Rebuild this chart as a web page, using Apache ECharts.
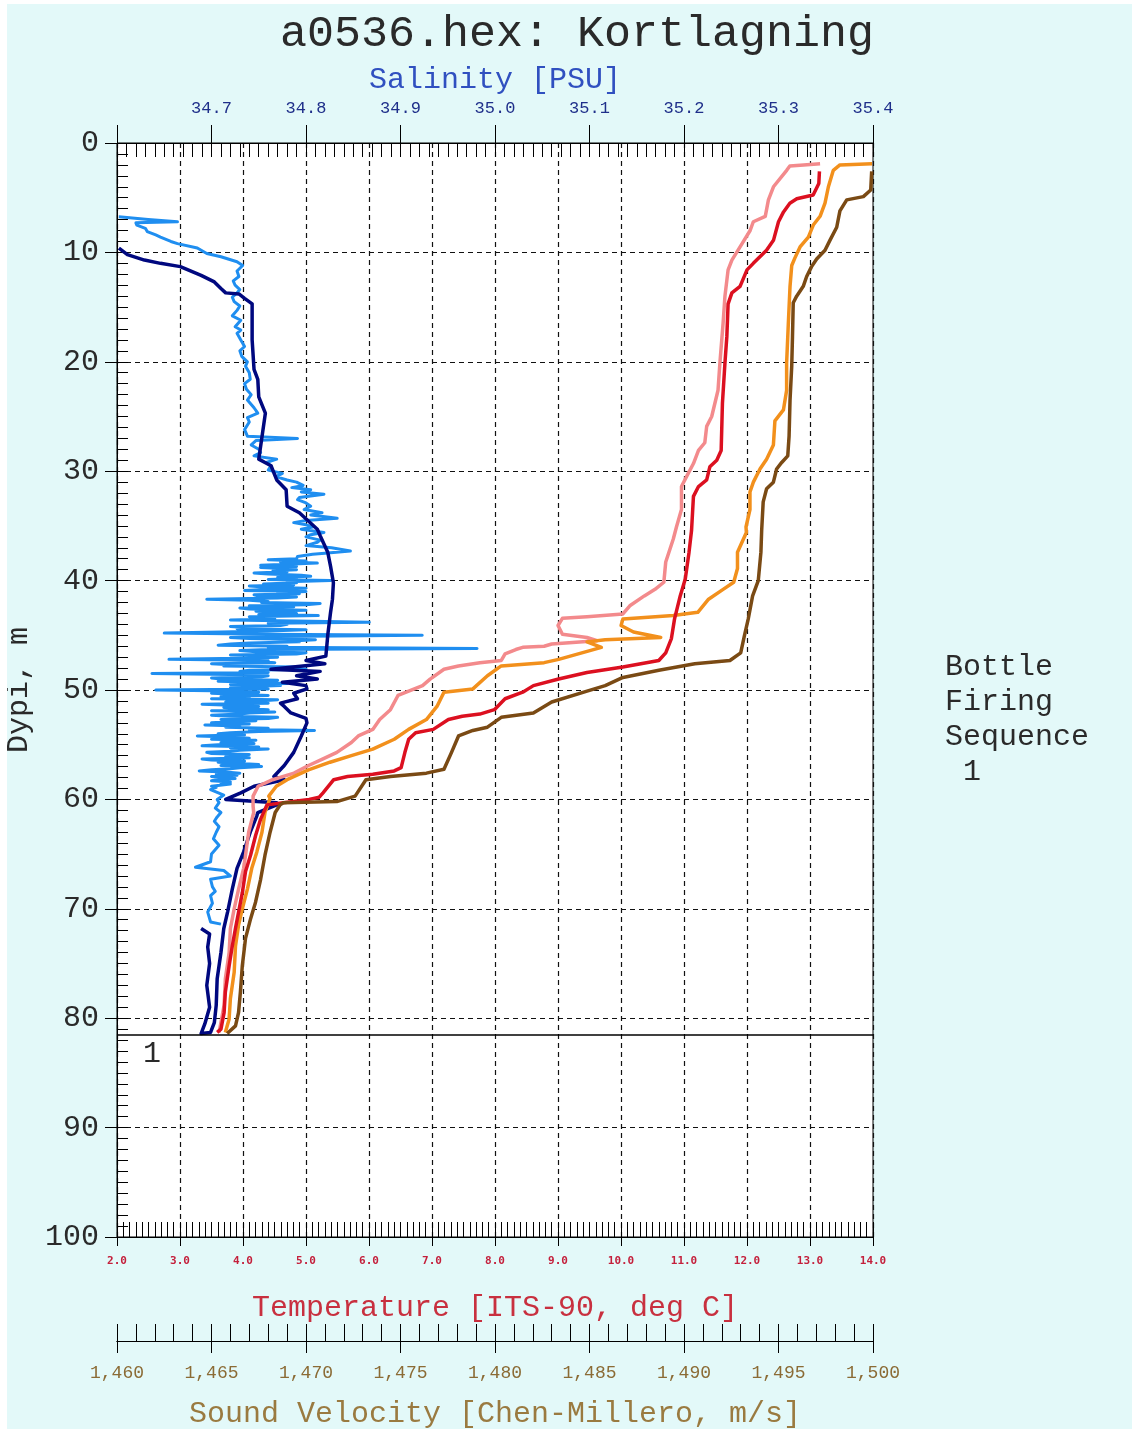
<!DOCTYPE html>
<html><head><meta charset="utf-8">
<script src="https://cdn.jsdelivr.net/npm/echarts@6/dist/echarts.min.js"></script>
<style>
html,body{margin:0;padding:0;background:#fff;}
#chart{position:absolute;left:0;top:0;width:1132px;height:1429px;background:#E3F9F9;}
#edgeL{position:absolute;left:0;top:0;width:7px;height:1429px;background:#fff;}
#edgeT{position:absolute;left:0;top:0;width:1132px;height:4px;background:#fff;}
</style></head><body>
<div id="chart"></div><div id="edgeL"></div><div id="edgeT"></div>
<script>
// ---- texts ----
const titleText = 'a0536.hex: Kortlagning';
const salinityName = 'Salinity [PSU]';
const temperatureName = 'Temperature [ITS-90, deg C]';
const soundName = 'Sound Velocity [Chen-Millero, m/s]';
const depthName = 'Dypi, m';
const sideNote = ['Bottle', 'Firing', 'Sequence', ' 1'];
const bottleDepths = [81.5];
const bottleLabels = ['1'];

// ---- data: [depth m, value] ----
const salinity1 = [[9.6,34.602],[10.2,34.611],[10.7,34.629],[11.0,34.646],[11.3,34.667],[12.1,34.689],[12.7,34.703],[13.3,34.710],[13.7,34.715],[13.8,34.729],[14.2,34.735],[14.7,34.743],[18.0,34.743],[20.7,34.745],[21.6,34.749],[23.2,34.750],[24.7,34.757],[26.5,34.754],[28.9,34.750],[29.5,34.763],[30.8,34.769],[31.7,34.779],[33.2,34.780],[33.8,34.793],[35.3,34.812],[35.9,34.815],[37.4,34.823],[38.7,34.826],[40.2,34.829],[41.7,34.828],[42.9,34.826],[45.0,34.823],[46.0,34.822],[46.9,34.821],[47.3,34.80],[47.6,34.82],[48.1,34.763],[48.3,34.815],[48.7,34.79],[49.0,34.812],[49.3,34.775],[49.6,34.80],[49.9,34.801],[50.3,34.787],[50.8,34.791],[51.2,34.773],[51.5,34.777],[52.1,34.784],[52.6,34.80],[53.0,34.801],[54.2,34.795],[55.7,34.787],[56.9,34.777],[57.9,34.766],[58.2,34.777],[58.8,34.745],[59.4,34.731],[60.0,34.715],[60.3,34.769],[60.5,34.769],[61.2,34.749],[61.5,34.748],[63.0,34.741],[64.8,34.734],[66.3,34.727],[68.2,34.722],[70.3,34.717],[71.8,34.713],[74.0,34.710],[76.4,34.706],[78.8,34.705],[80.4,34.703],[81.3,34.699],[81.4,34.689],[80.5,34.693],[79.0,34.698],[77.0,34.695],[75.0,34.698],[73.5,34.696],[72.3,34.698],[71.8,34.689]];

const salinity2 = [[6.75,34.602],[7.0,34.633],[7.2,34.664],[7.3,34.620],[7.5,34.621],[7.8,34.630],[8.1,34.632],[8.4,34.641],[8.6,34.646],[9.0,34.657],[9.2,34.664],[9.6,34.685],[10.1,34.695],[10.4,34.710],[10.85,34.727],[11.2,34.733],[11.7,34.727],[12.2,34.729],[12.6,34.723],[13.0,34.725],[13.4,34.730],[13.7,34.727],[14.1,34.722],[14.5,34.724],[14.9,34.730],[15.3,34.727],[15.8,34.722],[16.2,34.731],[16.8,34.725],[17.1,34.731],[17.4,34.727],[18.0,34.731],[18.6,34.735],[19.0,34.730],[19.5,34.732],[20.0,34.738],[20.4,34.736],[21.0,34.740],[21.6,34.741],[22.0,34.735],[22.5,34.737],[23.0,34.742],[23.5,34.738],[24.2,34.745],[24.7,34.749],[25.1,34.738],[25.5,34.740],[26.2,34.735],[26.8,34.738],[27.0,34.791],[27.2,34.747],[27.6,34.742],[28.0,34.750],[28.3,34.752],[28.6,34.745],[28.9,34.769],[29.2,34.758],[29.5,34.763],[29.9,34.760],[30.2,34.775],[30.5,34.768],[30.8,34.780],[31.0,34.790],[31.3,34.797],[31.5,34.785],[31.7,34.805],[31.9,34.795],[32.1,34.819],[32.4,34.793],[32.6,34.791],[32.9,34.800],[33.2,34.805],[33.5,34.798],[33.8,34.817],[34.0,34.805],[34.3,34.833],[34.5,34.800],[34.7,34.787],[34.9,34.800],[35.1,34.807],[35.3,34.795],[35.6,34.819],[35.8,34.805],[36.0,34.800],[36.3,34.815],[36.5,34.812],[36.8,34.800],[37.0,34.827],[37.3,34.847],[37.5,34.820],[37.6,34.807],[37.8,34.791],
[38.0,34.790],[38.1,34.760],[38.2,34.800],[38.3,34.773],[38.4,34.812],[38.5,34.780],[38.6,34.752],[38.7,34.790],[38.8,34.752],[38.9,34.775],[39.0,34.790],[39.1,34.765],[39.2,34.780],[39.3,34.745],[39.4,34.760],[39.5,34.795],[39.6,34.805],[39.7,34.770],[39.8,34.790],[39.9,34.760],[40.0,34.826],[40.1,34.780],[40.2,34.790],[40.3,34.755],[40.4,34.787],[40.5,34.740],[40.6,34.760],[40.7,34.800],[40.8,34.760],[40.9,34.735],[41.0,34.800],[41.1,34.770],[41.2,34.793],[41.3,34.745],[41.4,34.750],[41.5,34.790],[41.6,34.770],[41.7,34.695],[41.8,34.740],[41.9,34.760],[42.0,34.753],[42.1,34.815],[42.2,34.800],[42.3,34.740],[42.4,34.787],[42.5,34.730],[42.6,34.740],[42.7,34.800],[42.8,34.747],[42.9,34.775],[43.0,34.790],[43.1,34.750],[43.2,34.813],[43.3,34.740],[43.4,34.760],[43.5,34.767],[43.6,34.720],[43.7,34.790],[43.8,34.867],[43.9,34.760],[44.0,34.780],[44.1,34.773],[44.2,34.720],[44.3,34.740],[44.4,34.727],[44.5,34.800],[44.6,34.760],[44.7,34.710],[44.8,34.650],[44.9,34.760],[45.0,34.923],[45.1,34.770],[45.2,34.720],[45.3,34.740],[45.4,34.810],[45.5,34.790],[45.6,34.793],[45.7,34.740],[45.8,34.720],[45.9,34.707],[46.0,34.780],[46.1,34.760],[46.2,34.981],[46.3,34.760],[46.4,34.730],[46.5,34.747],[46.6,34.800],[46.7,34.790],[46.8,34.720],[46.9,34.760],[47.0,34.770],[47.1,34.730],[47.2,34.655],[47.3,34.760],[47.4,34.750],[47.5,34.767],[47.6,34.700],[47.7,34.720],[47.8,34.713],[47.9,34.790],[48.0,34.780],[48.1,34.800],[48.2,34.740],[48.3,34.730],[48.4,34.760],[48.5,34.637],[48.6,34.740],[48.7,34.760],[48.8,34.753],[48.9,34.700],[49.0,34.710],[49.1,34.770],[49.2,34.707],[49.3,34.750],[49.4,34.780],[49.5,34.720],[49.6,34.773],[49.7,34.735],[49.8,34.720],[49.9,34.760],[50.0,34.641],[50.1,34.720],[50.2,34.750],[50.3,34.700],[50.4,34.733],[50.5,34.760],[50.6,34.710],[50.7,34.740],[50.8,34.700],[50.9,34.770],[51.0,34.750],[51.1,34.715],[51.2,34.760],[51.3,34.690],[51.4,34.720],[51.5,34.750],[51.6,34.713],[51.7,34.735],[51.8,34.760],[51.9,34.700],[52.0,34.767],[52.1,34.740],[52.2,34.730],[52.3,34.700],[52.4,34.720],[52.5,34.770],[52.6,34.760],[52.7,34.710],[52.8,34.747],[52.9,34.720],[53.0,34.700],[53.1,34.740],[53.2,34.693],[53.3,34.730],[53.4,34.715],[53.5,34.760],[53.6,34.740],[53.7,34.809],[53.8,34.750],[53.9,34.720],[54.0,34.707],[54.1,34.735],[54.2,34.685],[54.3,34.720],[54.4,34.740],[54.5,34.700],[54.6,34.747],[54.7,34.725],[54.8,34.710],[54.9,34.745],[55.0,34.707],[55.1,34.690],[55.2,34.750],[55.3,34.720],[55.4,34.760],[55.5,34.730],[55.6,34.720],[55.7,34.695],[55.8,34.700],[55.9,34.740],[56.0,34.740],[56.1,34.715],[56.2,34.740],[56.3,34.690],[56.4,34.700],[56.5,34.735],[56.6,34.707],[56.7,34.725],[56.8,34.750],[56.9,34.710],[57.0,34.753],[57.1,34.730],[57.2,34.720],[57.3,34.700],[57.4,34.687],[57.5,34.715],[57.6,34.730],[57.7,34.705],[57.8,34.727],[57.9,34.700],[58.0,34.710],[58.1,34.725],[58.2,34.707],[58.3,34.700],[58.4,34.720],[58.5,34.710],[58.6,34.720],[58.8,34.700],[58.9,34.705],[59.1,34.699],
[59.6,34.713],[60.0,34.706],[60.3,34.708],[60.8,34.704],[61.2,34.710],[61.6,34.706],[62.0,34.703],[62.5,34.708],[63.0,34.705],[63.6,34.702],[64.2,34.708],[65.0,34.700],[65.7,34.699],[66.2,34.683],[66.5,34.713],[67.0,34.720],[67.3,34.699],[68.0,34.701],[68.4,34.704],[68.8,34.699],[69.5,34.701],[70.3,34.696],[71.2,34.699],[71.4,34.710]];

const temperature1 = [[2.6,13.15],[3.7,13.14],[4.75,13.05],[5.1,12.79],[5.5,12.68],[6.3,12.58],[7.2,12.50],[8.9,12.42],[9.8,12.31],[11.0,12.10],[11.6,12.00],[13.1,11.89],[13.7,11.76],[14.7,11.70],[17.7,11.68],[20.1,11.65],[23.8,11.61],[28.1,11.59],[29.0,11.52],[29.6,11.41],[30.8,11.36],[31.4,11.23],[32.3,11.15],[35.4,11.12],[37.4,11.08],[39.85,11.02],[41.4,10.94],[43.5,10.85],[45.3,10.80],[46.6,10.71],[47.3,10.60],[47.9,10.03],[48.4,9.46],[49.0,9.01],[49.6,8.61],[50.2,8.44],[50.8,8.16],[51.8,7.99],[52.2,7.76],[52.4,7.48],[52.7,7.26],[53.6,7.02],[53.9,6.74],[54.5,6.63],[55.7,6.57],[57.1,6.51],[57.4,6.40],[57.7,6.06],[57.9,5.66],[58.2,5.44],[59.4,5.27],[59.8,5.21],[60.0,5.05],[60.3,4.64],[60.5,4.38],[61.8,4.28],[63.3,4.20],[65.1,4.12],[66.6,4.04],[68.5,3.99],[70.3,3.93],[71.8,3.88],[73.4,3.83],[75.2,3.78],[77.6,3.72],[79.5,3.70],[81.0,3.65],[81.3,3.59]];

const temperature2 = [[1.9,13.16],[2.0,12.90],[2.1,12.68],[2.5,12.63],[4.0,12.42],[5.2,12.34],[6.7,12.29],[7.2,12.10],[8.0,12.05],[9.5,11.89],[10.7,11.76],[11.6,11.70],[14.0,11.65],[16.5,11.62],[20.1,11.57],[22.6,11.54],[25.0,11.44],[25.9,11.36],[27.4,11.33],[28.1,11.23],[29.3,11.15],[30.5,11.04],[31.4,10.96],[33.5,10.96],[35.1,10.88],[36.2,10.83],[38.3,10.71],[40.15,10.68],[40.8,10.54],[41.4,10.37],[42.3,10.14],[43.05,10.03],[43.3,9.46],[43.45,9.07],[44.1,9.0],[44.9,9.07],[45.2,9.46],[45.5,9.62],[45.8,8.90],[46.0,8.78],[46.1,8.44],[46.3,8.33],[46.7,8.16],[47.3,8.10],[47.5,7.76],[47.8,7.42],[48.1,7.19],[49.0,6.97],[49.6,6.85],[50.1,6.63],[50.5,6.46],[51.8,6.34],[52.7,6.17],[53.6,6.06],[54.2,5.83],[54.8,5.72],[55.7,5.49],[56.3,5.27],[56.9,5.04],[57.6,4.81],[58.2,4.47],[58.8,4.24],[59.7,4.16],[60.6,4.16],[61.2,4.17],[63.0,4.09],[65.1,4.04],[66.3,4.01],[68.2,3.93],[70.0,3.86],[71.8,3.80],[74.0,3.78],[76.4,3.72],[78.8,3.70],[80.4,3.65],[81.3,3.62]];

const soundVelocity1 = [[2.6,1499.93],[4.3,1499.88],[4.9,1499.49],[5.2,1498.61],[6.2,1498.25],[7.7,1498.08],[8.9,1497.72],[9.8,1497.46],[10.6,1497.02],[11.3,1496.75],[12.2,1496.49],[13.1,1496.31],[14.0,1495.96],[14.6,1495.78],[17.7,1495.74],[20.4,1495.70],[23.5,1495.61],[26.8,1495.56],[28.6,1495.49],[29.2,1495.17],[29.8,1494.90],[31.0,1494.73],[31.6,1494.37],[32.8,1494.19],[35.4,1494.11],[37.4,1494.07],[40.0,1493.93],[41.4,1493.63],[43.5,1493.40],[45.0,1493.20],[46.6,1493.00],[47.3,1492.43],[47.6,1490.57],[48.2,1488.67],[48.85,1486.77],[49.6,1485.83],[50.1,1484.87],[51.1,1483.00],[52.1,1482.03],[52.5,1480.33],[53.4,1479.60],[53.7,1478.83],[54.2,1478.07],[55.7,1477.70],[57.25,1477.30],[57.6,1476.37],[57.9,1474.47],[58.2,1473.17],[59.7,1472.60],[60.2,1471.63],[60.3,1468.80],[60.5,1468.63],[61.2,1468.37],[63.0,1468.10],[65.1,1467.83],[67.3,1467.60],[69.4,1467.33],[70.9,1467.07],[72.7,1466.80],[75.2,1466.63],[77.6,1466.53],[79.5,1466.43],[80.7,1466.27],[81.4,1465.83]];

const soundVelocity2 = [[1.9,1499.95],[2.0,1498.25],[2.5,1497.90],[4.0,1497.64],[5.5,1497.46],[6.7,1497.20],[7.5,1496.84],[8.6,1496.58],[9.5,1496.14],[10.5,1495.87],[11.2,1495.70],[13.1,1495.61],[16.5,1495.52],[20.1,1495.43],[22.6,1495.43],[24.4,1495.26],[25.4,1494.81],[27.6,1494.73],[28.9,1494.37],[29.8,1494.02],[31.0,1493.67],[31.9,1493.49],[33.5,1493.49],[35.1,1493.28],[35.6,1493.30],[37.4,1492.83],[38.9,1492.83],[40.15,1492.63],[40.8,1492.07],[41.7,1491.30],[42.9,1490.73],[43.2,1489.43],[43.5,1486.77],[44.1,1486.67],[44.7,1487.33],[45.2,1488.77],[45.4,1485.83],[45.6,1484.87],[46.1,1485.63],[47.2,1483.37],[47.5,1482.60],[47.8,1480.33],[48.7,1479.60],[49.9,1478.83],[50.2,1477.30],[51.5,1476.93],[52.7,1476.37],[53.6,1475.43],[54.5,1474.67],[55.4,1473.53],[56.0,1472.40],[56.6,1471.27],[57.3,1470.13],[58.2,1469.00],[58.8,1468.43],[59.7,1468.03],[59.9,1468.10],[61.2,1467.83],[63.0,1467.67],[64.8,1467.40],[66.3,1467.13],[68.2,1466.90],[70.0,1466.63],[71.5,1466.43],[73.4,1466.27],[75.8,1466.20],[78.2,1466.00],[80.1,1465.93],[81.3,1465.73]];

// ---- chart ----
const FONT = '"Liberation Mono", "DejaVu Sans Mono", monospace';
const chart = echarts.init(document.getElementById('chart'), null, {renderer: 'canvas'});
const black = {color: '#000', width: 1};
const dashed = {color: '#111', width: 1.2, type: [5, 4]};

function lineSeries(name, pairs, color, xi, width, extra) {
  return Object.assign({
    type: 'line', name: name, xAxisIndex: xi, yAxisIndex: 0,
    data: pairs.map(p => [p[1], p[0]]),
    showSymbol: false, symbol: 'none', silent: true, clip: true,
    lineStyle: {color: color, width: width, join: 'round'}, itemStyle: {color: color}
  }, extra || {});
}

const option = {
  animation: false,
  backgroundColor: 'transparent',
  title: {text: titleText, left: 275, top: 7,
    textStyle: {fontFamily: FONT, fontSize: 45, fontWeight: 'normal', color: '#2a2a2a'}},
  grid: {left: 117, right: 259, top: 143, bottom: 192, show: true,
    backgroundColor: '#fff', borderColor: '#000', borderWidth: 1, containLabel: false, outerBoundsMode: 'none'},
  xAxis: [
    {type: 'value', position: 'top', min: 34.6, max: 35.4, interval: 0.1,
      axisLine: {show: true, lineStyle: black},
      axisTick: {show: true, inside: false, length: 18, lineStyle: black},
      axisLabel: {fontFamily: FONT, fontSize: 17, color: '#1f2f8a', margin: 26,
        formatter: v => (Math.abs(v - 34.6) < 1e-6 ? '' : v.toFixed(1))},
      splitLine: {show: false},
      name: salinityName, nameLocation: 'middle', nameGap: 46,
      nameTextStyle: {fontFamily: FONT, fontSize: 30, color: '#3050c0'}},
    {type: 'value', position: 'top', min: 34.6, max: 35.4, interval: 0.1,
      axisLine: {show: false}, axisLabel: {show: false}, splitLine: {show: false},
      axisTick: {show: true, inside: true, length: 14, lineStyle: black},
      minorTick: {show: true, splitNumber: 10, length: 14, lineStyle: black}},
    {type: 'value', position: 'bottom', min: 2, max: 14, interval: 1,
      axisLine: {show: true, lineStyle: black},
      axisTick: {show: true, inside: false, length: 9, lineStyle: black},
      axisLabel: {fontFamily: '"DejaVu Sans Mono", monospace', fontSize: 11, fontWeight: 'bold',
        color: '#c4203c', margin: 19, formatter: v => v.toFixed(1)},
      splitLine: {show: true, lineStyle: dashed},
      name: temperatureName, nameLocation: 'middle', nameGap: 56,
      nameTextStyle: {fontFamily: FONT, fontSize: 30, color: '#c8303f'}},
    {type: 'value', position: 'bottom', min: 2, max: 14, interval: 1,
      axisLine: {show: false}, axisLabel: {show: false}, splitLine: {show: false},
      axisTick: {show: true, inside: true, length: 15, lineStyle: black},
      minorTick: {show: true, splitNumber: 10, length: 15, lineStyle: black}},
    {type: 'value', position: 'bottom', offset: 104, min: 1460, max: 1500, interval: 5,
      axisLine: {show: true, lineStyle: black}, axisLabel: {show: false}, splitLine: {show: false},
      axisTick: {show: true, inside: true, length: 17, lineStyle: black},
      minorTick: {show: true, splitNumber: 5, length: 17, lineStyle: black}},
    {type: 'value', position: 'bottom', offset: 104, min: 1460, max: 1500, interval: 5,
      axisLine: {show: true, lineStyle: black}, splitLine: {show: false},
      axisTick: {show: true, inside: false, length: 12, lineStyle: black},
      axisLabel: {fontFamily: FONT, fontSize: 18, color: '#8b6b35', margin: 23,
        formatter: v => v.toLocaleString('en-US')},
      name: soundName, nameLocation: 'middle', nameGap: 58,
      nameTextStyle: {fontFamily: FONT, fontSize: 30, color: '#9a7a40'}}
  ],
  yAxis: [
    {type: 'value', inverse: true, min: 0, max: 100, interval: 10, position: 'left',
      axisLine: {show: true, lineStyle: black},
      axisTick: {show: true, inside: false, length: 12, lineStyle: black},
      axisLabel: {fontFamily: FONT, fontSize: 30, color: '#2a2a2a', margin: 18},
      splitLine: {show: true, lineStyle: dashed},
      name: depthName, nameLocation: 'middle', nameRotate: 90, nameGap: 80,
      nameTextStyle: {fontFamily: FONT, fontSize: 30, color: '#2a2a2a'}},
    {type: 'value', inverse: true, min: 0, max: 100, interval: 1, position: 'left',
      axisLine: {show: false}, axisLabel: {show: false}, splitLine: {show: false},
      axisTick: {show: true, inside: true, length: 11, lineStyle: black}}
  ],
  graphic: [
    {type: 'text', left: 945, top: 650,
      style: {text: sideNote.join('\n'), font: '30px "Liberation Mono", monospace', fill: '#2a2a2a', lineHeight: 35}}
  ],
  series: [
    lineSeries('Salinity 2', salinity2, '#1f8ef0', 0, 3),
    lineSeries('Salinity', salinity1, '#00087f', 0, 3.5, {
      markLine: {silent: true, symbol: ['none', 'none'], animation: false,
        lineStyle: {color: '#000', type: 'solid', width: 1.5},
        emphasis: {disabled: true},
        label: {show: true, position: 'insideStartBottom', fontFamily: FONT, fontSize: 30,
          color: '#2a2a2a', distance: [26, 4]},
        data: bottleDepths.map((d, i) => ({yAxis: d, label: {formatter: bottleLabels[i]}}))}
    }),
    lineSeries('Temperature 2', temperature2, '#f38a8c', 2, 3.5),
    lineSeries('Sound Velocity 2', soundVelocity2, '#f2901c', 5, 3.5),
    lineSeries('Temperature', temperature1, '#dc1020', 2, 3.5),
    lineSeries('Sound Velocity', soundVelocity1, '#7a4a14', 5, 3.5)
  ]
};
chart.setOption(option);
</script></body></html>
